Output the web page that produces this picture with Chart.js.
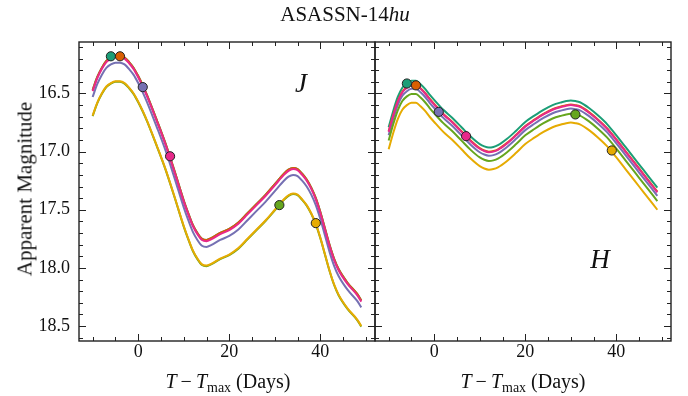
<!DOCTYPE html>
<html>
<head>
<meta charset="utf-8">
<script src="https://cdn.jsdelivr.net/npm/chart.js@4"></script>
<style>
body { margin: 0; background: #fff; }
#wrap { position: relative; width: 688px; height: 396px; font-family: "Liberation Serif", serif; color: #111; }
canvas { position: absolute; left: 0; top: 0; }
.txt { position: absolute; white-space: nowrap; transform: translate(-50%, -50%); }
</style>
</head>
<body>
<div id="wrap">
  <canvas id="jChart" width="688" height="396"></canvas>
  <canvas id="hChart" width="688" height="396"></canvas>
  <div class="txt" style="left:345px;top:14px;font-size:21px">ASASSN-14<i>hu</i></div>
  <div class="txt" style="left:25px;top:189px;font-size:21px;transform:translate(-50%,-50%) rotate(-90deg)">Apparent Magnitude</div>
  <div class="txt" style="left:228px;top:381px;font-size:20px"><i>T</i>&thinsp;&minus;&thinsp;<i>T</i><span style="font-size:14px;position:relative;top:4px">max</span> (Days)</div>
  <div class="txt" style="left:523px;top:381px;font-size:20px"><i>T</i>&thinsp;&minus;&thinsp;<i>T</i><span style="font-size:14px;position:relative;top:4px">max</span> (Days)</div>
  <div class="txt" style="left:301px;top:83px;font-size:27px"><i>J</i></div>
  <div class="txt" style="left:600px;top:259px;font-size:27px"><i>H</i></div>
</div>
<script>
// couleurs des six courbes (teal, orange, violet, rose, vert, jaune)
const colors = ["#1b9e77", "#d95f02", "#7570b3", "#e7298a", "#66a61e", "#e6ab02"];

// graduations
const xMajor = [0, 20, 40];
const xMinor = [-10, -5, 5, 10, 15, 25, 30, 35, 45, 50];
const yMajor = [16.5, 17.0, 17.5, 18.0, 18.5];
const yMinor = [16.1, 16.2, 16.3, 16.4, 16.6, 16.7, 16.8, 16.9, 17.1, 17.2, 17.3, 17.4,
  17.6, 17.7, 17.8, 17.9, 18.1, 18.2, 18.3, 18.4, 18.6];

// bande J
const jDays = [-10, -9, -8, -7, -6, -5, -4, -3, -2, -1, 0, 1, 2, 4, 6, 8, 10, 11, 12, 13, 14, 15, 16,
  18, 20, 22, 24, 26, 28, 30, 32, 33, 34, 35, 36, 37, 38, 39, 40, 41, 42, 43, 44, 46, 48, 49];
const jTeal = [16.47, 16.36, 16.28, 16.22, 16.19, 16.175, 16.175, 16.19, 16.23, 16.28, 16.35, 16.43, 16.52,
  16.72, 16.93, 17.17, 17.42, 17.53, 17.63, 17.70, 17.75, 17.76, 17.745, 17.70, 17.665, 17.61, 17.53,
  17.45, 17.37, 17.28, 17.19, 17.155, 17.14, 17.15, 17.19, 17.24, 17.31, 17.40, 17.52, 17.66, 17.80,
  17.92, 18.01, 18.13, 18.22, 18.28];
const jOrange = [16.47, 16.36, 16.28, 16.22, 16.19, 16.175, 16.175, 16.19, 16.23, 16.28, 16.35, 16.43, 16.52,
  16.72, 16.93, 17.17, 17.42, 17.53, 17.63, 17.70, 17.75, 17.76, 17.745, 17.70, 17.665, 17.61, 17.53,
  17.45, 17.37, 17.28, 17.19, 17.155, 17.14, 17.15, 17.19, 17.24, 17.31, 17.40, 17.52, 17.66, 17.80,
  17.92, 18.01, 18.13, 18.22, 18.28];
const jPurple = [16.53, 16.42, 16.34, 16.28, 16.25, 16.235, 16.235, 16.25, 16.29, 16.34, 16.41, 16.49, 16.58,
  16.78, 16.99, 17.23, 17.48, 17.59, 17.69, 17.76, 17.81, 17.82, 17.805, 17.76, 17.725, 17.67, 17.59,
  17.51, 17.43, 17.34, 17.25, 17.215, 17.20, 17.21, 17.25, 17.30, 17.37, 17.46, 17.58, 17.72, 17.86,
  17.98, 18.07, 18.19, 18.28, 18.34];
const jPink = [16.48, 16.37, 16.29, 16.23, 16.20, 16.185, 16.185, 16.20, 16.24, 16.29, 16.36, 16.44, 16.53,
  16.73, 16.94, 17.18, 17.43, 17.54, 17.64, 17.71, 17.76, 17.77, 17.755, 17.71, 17.675, 17.62, 17.54,
  17.46, 17.38, 17.29, 17.20, 17.165, 17.15, 17.16, 17.20, 17.25, 17.32, 17.41, 17.53, 17.67, 17.81,
  17.93, 18.02, 18.14, 18.23, 18.29];
const jGreen = [16.695, 16.585, 16.505, 16.445, 16.415, 16.40, 16.40, 16.415, 16.455, 16.505, 16.575, 16.655,
  16.745, 16.945, 17.155, 17.395, 17.645, 17.755, 17.855, 17.925, 17.975, 17.985, 17.97, 17.925, 17.89,
  17.835, 17.755, 17.675, 17.595, 17.505, 17.415, 17.38, 17.365, 17.375, 17.415, 17.465, 17.535, 17.625,
  17.745, 17.885, 18.025, 18.145, 18.235, 18.355, 18.445, 18.505];
const jYellow = [16.69, 16.58, 16.50, 16.44, 16.41, 16.395, 16.395, 16.41, 16.45, 16.50, 16.57, 16.65, 16.74,
  16.94, 17.15, 17.39, 17.64, 17.75, 17.85, 17.92, 17.97, 17.98, 17.965, 17.92, 17.885, 17.83, 17.75,
  17.67, 17.59, 17.50, 17.41, 17.375, 17.36, 17.37, 17.41, 17.46, 17.53, 17.62, 17.74, 17.88, 18.02,
  18.14, 18.23, 18.35, 18.44, 18.50];

// bande H
const hDays = [-10, -9, -8, -7, -6, -5, -4, -3, -2, -1, 0, 2, 4, 6, 8, 10, 11, 12, 13, 14, 16, 18, 20,
  22, 24, 26, 28, 29, 30, 31, 32, 34, 36, 38, 40, 42, 44, 46, 48, 49];
const hTeal = [16.79, 16.65, 16.53, 16.45, 16.41, 16.39, 16.39, 16.42, 16.46, 16.51, 16.555, 16.64, 16.71,
  16.79, 16.87, 16.935, 16.955, 16.965, 16.96, 16.945, 16.89, 16.82, 16.745, 16.69, 16.64, 16.60, 16.575,
  16.565, 16.56, 16.565, 16.575, 16.625, 16.69, 16.765, 16.86, 16.96, 17.06, 17.16, 17.26, 17.31];
const hOrange = [16.825, 16.685, 16.565, 16.485, 16.445, 16.425, 16.425, 16.455, 16.495, 16.545, 16.59, 16.675,
  16.745, 16.825, 16.905, 16.97, 16.99, 17.00, 16.995, 16.98, 16.925, 16.855, 16.78, 16.725, 16.675, 16.635,
  16.61, 16.60, 16.595, 16.60, 16.61, 16.66, 16.725, 16.80, 16.895, 16.995, 17.095, 17.195, 17.295, 17.345];
const hPurple = [16.86, 16.72, 16.60, 16.52, 16.48, 16.46, 16.46, 16.49, 16.53, 16.58, 16.625, 16.71, 16.78,
  16.86, 16.94, 17.005, 17.025, 17.035, 17.03, 17.015, 16.96, 16.89, 16.815, 16.76, 16.71, 16.67, 16.645,
  16.635, 16.63, 16.635, 16.645, 16.695, 16.76, 16.835, 16.93, 17.03, 17.13, 17.23, 17.33, 17.38];
const hPink = [16.83, 16.69, 16.57, 16.49, 16.45, 16.43, 16.43, 16.46, 16.50, 16.55, 16.595, 16.68, 16.75,
  16.83, 16.91, 16.975, 16.995, 17.005, 17.00, 16.985, 16.93, 16.86, 16.785, 16.73, 16.68, 16.64, 16.615,
  16.605, 16.60, 16.605, 16.615, 16.665, 16.73, 16.805, 16.90, 17.00, 17.10, 17.20, 17.30, 17.35];
const hGreen = [16.905, 16.765, 16.645, 16.565, 16.525, 16.505, 16.505, 16.535, 16.575, 16.625, 16.67, 16.755,
  16.825, 16.905, 16.985, 17.05, 17.07, 17.08, 17.075, 17.06, 17.005, 16.935, 16.86, 16.805, 16.755, 16.715,
  16.69, 16.68, 16.675, 16.68, 16.69, 16.74, 16.805, 16.88, 16.975, 17.075, 17.175, 17.275, 17.375, 17.425];
const hYellow = [16.98, 16.84, 16.72, 16.64, 16.60, 16.58, 16.58, 16.61, 16.65, 16.70, 16.745, 16.83, 16.90,
  16.98, 17.06, 17.125, 17.145, 17.155, 17.15, 17.135, 17.08, 17.01, 16.935, 16.88, 16.83, 16.79, 16.765,
  16.755, 16.75, 16.755, 16.765, 16.815, 16.88, 16.955, 17.05, 17.15, 17.25, 17.35, 17.45, 17.50];

// points observes (meme ordre de couleurs)
const markDays = [-6, -4, 1, 7, 31, 39];
const jMarks = [16.18, 16.18, 16.445, 17.04, 17.46, 17.615];
const hMarks = [16.414, 16.43, 16.658, 16.867, 16.68, 16.99];

// cadre et graduations vers l'interieur, sur les quatre cotes
const framePlugin = {
  id: "frame",
  afterDraw(chart) {
    const { ctx, chartArea: a, scales } = chart;
    const xs = scales.x, ys = scales.y;
    ctx.save();
    ctx.strokeStyle = "#222";
    ctx.lineWidth = 1;
    ctx.beginPath();
    const tick = (vals, len) => {
      vals.forEach((v) => {
        const px = Math.round(xs.getPixelForValue(v)) + 0.5;
        ctx.moveTo(px, a.bottom); ctx.lineTo(px, a.bottom - len);
        ctx.moveTo(px, a.top); ctx.lineTo(px, a.top + len);
      });
    };
    const ytick = (vals, len) => {
      vals.forEach((v) => {
        const py = Math.round(ys.getPixelForValue(v)) + 0.5;
        ctx.moveTo(a.left, py); ctx.lineTo(a.left + len, py);
        ctx.moveTo(a.right, py); ctx.lineTo(a.right - len, py);
      });
    };
    tick(xMajor, 7); tick(xMinor, 4);
    ytick(yMajor, 7); ytick(yMinor, 4);
    ctx.stroke();
    ctx.lineWidth = 1.4;
    ctx.strokeRect(a.left, a.top, a.right - a.left, a.bottom - a.top);
    ctx.restore();
  },
};

function makeChart(id, days, series, marks, padLeft, padRight, showY) {
  const lines = series.map((vals, i) => ({
    type: "line",
    data: vals.map((v, k) => ({ x: days[k], y: v })),
    borderColor: colors[i],
    borderWidth: 2,
    pointRadius: 0,
    cubicInterpolationMode: "monotone",
    borderJoinStyle: "round",
  })).reverse();
  const markerSet = {
    type: "scatter",
    data: marks.map((v, k) => ({ x: markDays[k], y: v })),
    pointRadius: 4.6,
    pointBackgroundColor: colors,
    pointBorderColor: "#222",
    pointBorderWidth: 1,
  };
  const font = { family: "Liberation Serif", size: 18 };
  new Chart(document.getElementById(id), {
    type: "line",
    data: { datasets: [markerSet, ...lines] },
    options: {
      responsive: false,
      animation: false,
      layout: { padding: { left: padLeft, right: padRight, top: 42, bottom: 0 } },
      plugins: { legend: { display: false }, tooltip: { enabled: false } },
      scales: {
        x: {
          type: "linear",
          min: -13, max: 52,
          afterBuildTicks: (s) => { s.ticks = xMajor.map((v) => ({ value: v })); },
          afterFit: (s) => { s.height = 55; },
          grid: { display: false, drawTicks: false },
          border: { display: false },
          ticks: { font, color: "#111", padding: 0, maxRotation: 0 },
        },
        y: {
          type: "linear",
          display: showY,
          reverse: true,
          min: 16.057, max: 18.629,
          afterBuildTicks: (s) => { s.ticks = yMajor.map((v) => ({ value: v })); },
          afterFit: (s) => { s.width = showY ? 79 : 0; },
          grid: { display: false, drawTicks: false },
          border: { display: false },
          ticks: { font, color: "#111", padding: 9, callback: (v) => v.toFixed(1) },
        },
      },
    },
    plugins: [framePlugin],
  });
}

makeChart("jChart", jDays, [jTeal, jOrange, jPurple, jPink, jGreen, jYellow], jMarks, 0, 313, true);
makeChart("hChart", hDays, [hTeal, hOrange, hPurple, hPink, hGreen, hYellow], hMarks, 375, 17, false);
</script>
</body>
</html>
